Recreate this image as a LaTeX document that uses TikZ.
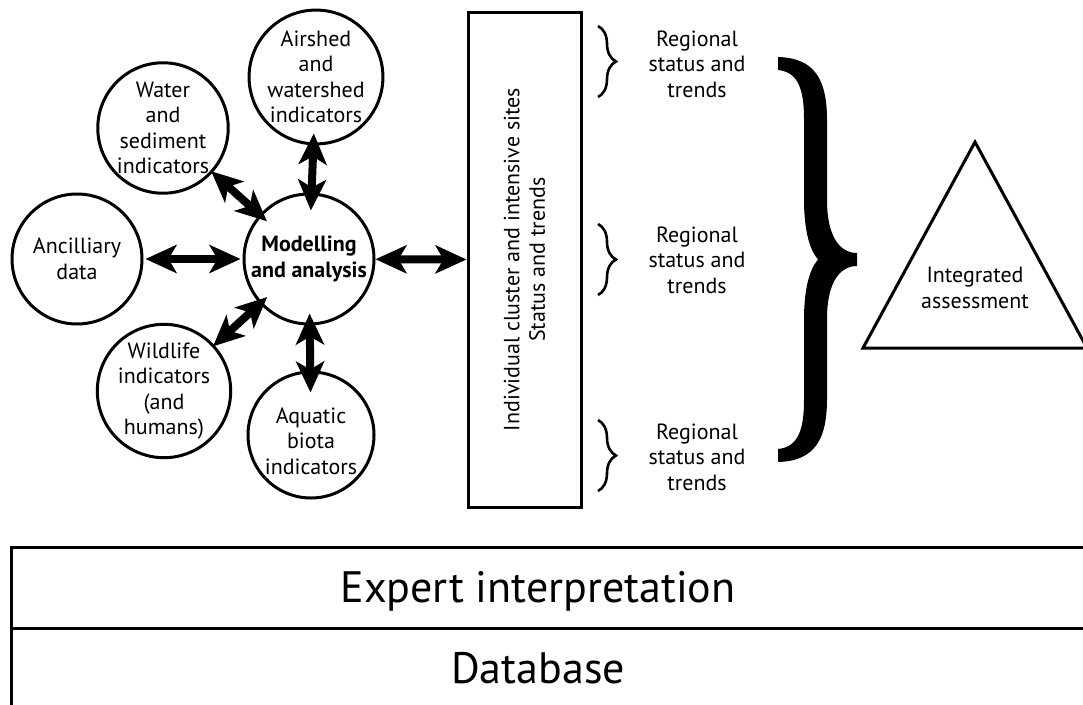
\documentclass[tikz,border=0pt]{standalone}
\usepackage{fontspec}
\setmainfont{PT Sans}
\usetikzlibrary{arrows.meta,decorations.pathreplacing}
\begin{document}
\begin{tikzpicture}[x=1pt,y=-1pt,
  font=\fontsize{22}{25.5}\selectfont,
  bub/.style={circle,draw,line width=3pt,inner sep=0pt,align=center,minimum size=130pt},
  dbl/.style={line width=8pt,{Stealth[length=31pt,width=28pt,inset=8pt]}-{Stealth[length=31pt,width=28pt,inset=8pt]}},
  txt/.style={align=center,inner sep=0pt},
  smallbrace/.style={decorate,decoration={brace,amplitude=18pt},line width=2.6pt},
  box/.style={draw,line width=3pt,inner sep=0pt}
]
\useasboundingbox (0,0) rectangle (1083,704);
\clip (0,0) rectangle (1083,704);

% circles
\node[bub] (air) at (316,77) {Airshed\\and\\watershed\\indicators};
\node[bub] (wat) at (163,128) {Water\\and\\sediment\\indicators};
\node[bub] (anc) at (77,259) {Ancilliary\\data};
\node[bub,font=\fontsize{22}{25.5}\selectfont\bfseries] (mod) at (309,259) {Modelling\\and analysis};
\node[bub] (wil) at (164,391) {Wildlife\\indicators\\(and\\humans)};
\node[bub,minimum size=126pt] (aqu) at (311,435) {};
\node[txt] (aqut) at (311,441) {Aquatic\\biota\\indicators};

% central rectangle
\node[box,rotate=90,minimum width=495pt,minimum height=113pt,align=center] (sites) at (524.5,259.5)
  {Individual cluster and intensive sites\\Status and trends};

% arrows
\draw[dbl,shorten <=-12pt,shorten >=-18pt] (air) -- (mod);
\draw[dbl,shorten <=-2pt,shorten >=-10pt] (wat) -- (mod);
\draw[dbl,shorten <=2pt,shorten >=2pt] (anc) -- (mod);
\draw[dbl] (mod) -- (sites.north);
\draw[dbl,shorten <=-2pt,shorten >=-10pt] (wil) -- (mod);
\draw[dbl,shorten <=-22pt,shorten >=-12pt] (aqu) -- (mod);

% regional texts and small braces
\node[txt] (r1) at (697,64) {Regional\\status and\\trends};
\node[txt] (r2) at (697,260) {Regional\\status and\\trends};
\node[txt] (r3) at (697,457) {Regional\\status and\\trends};
\coordinate (b1a) at (598,26); \coordinate (b1b) at (598,97);
\coordinate (b2a) at (598,224); \coordinate (b2b) at (598,295);
\coordinate (b3a) at (598,420); \coordinate (b3b) at (598,491);
\draw[smallbrace] (b1a) -- (b1b);
\draw[smallbrace] (b2a) -- (b2b);
\draw[smallbrace] (b3a) -- (b3b);

% big brace
\fill (778,57) .. controls (815,58) and (827,80) .. (827,120) -- (827,200)
  .. controls (827,237) and (840,253) .. (857,253) -- (857,266)
  .. controls (840,266) and (827,282) .. (827,319) -- (827,399)
  .. controls (827,439) and (815,461) .. (778,462) -- (778,449)
  .. controls (798,447) and (804,430) .. (804,400) -- (804,320)
  .. controls (804,290) and (809,270) .. (818,259.5)
  .. controls (809,249) and (804,229) .. (804,199) -- (804,119)
  .. controls (804,89) and (798,72) .. (778,70) -- cycle;

% triangle
\coordinate (ta) at (975,142);
\coordinate (tl) at (863,348);
\coordinate (tr) at (1087,348);
\draw[line width=3pt,line join=miter] (ta) -- (tl) -- (tr) -- cycle;
\node[txt] (integ) at (975,288) {Integrated\\assessment};

% bottom boxes
\node[box,minimum width=1090pt,minimum height=81pt,anchor=north west] (expbox) at (10,546) {};
\node[box,minimum width=1090pt,minimum height=90pt,anchor=north west] (dbbox) at (10,627) {};
\node[inner sep=0pt,anchor=base,font=\fontsize{44}{50}\selectfont] (exp) at (538,602) {Expert interpretation};
\node[inner sep=0pt,anchor=base,font=\fontsize{44}{50}\selectfont] (db) at (538,683) {Database};
\end{tikzpicture}
\end{document}
